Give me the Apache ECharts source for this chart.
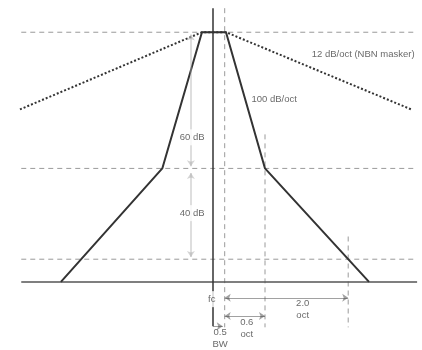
<!DOCTYPE html>
<html>
<head>
    <meta charset="utf-8">
    <title>ECharts</title>
    <script src="https://cdn.jsdelivr.net/npm/echarts@6.0.0/dist/echarts.min.js"></script>
</head>
<body style="margin:0;background:#fff;">
<div id="main" style="width: 422px;height:350px;"></div>
<script type="text/javascript">
    // x: octaves from fc, y: dB relative to the filter peak
    var filterX = [-2.34, -0.78, -0.17, 0.2, 0.8, 2.4];
    var filterY = [-110, -60, 0, 0, -60, -110];
    var maskerX = [-2.97, -0.17, 0.2, 3.05];
    var maskerY = [-34, 0, 0, -34];
    var refLevels = [0, -60, -100];
    var baseLevel = -110;
    var levelSpan = [-2.95, 3.14];
    var fcLine = [[0, 10.6], [0, -129.5]];
    var markerX = [0.18, 0.8, 2.08];
    var markerTop = [10.6, -45, -90];
    var markerBottom = -130;
    // [x1, y1, x2, y2, both ends?]
    var dimArrows = [
        [0.18, -117, 2.08, -117, true],
        [0.18, -125, 0.8, -125, true],
        [0, -129.5, 0.15, -129.5, false]
    ];
    var levelArrows = [
        [-0.34, -1, -0.34, -59],
        [-0.34, -62, -0.34, -99]
    ];
    // [x, y, text, white background?]
    var labels = [
        [2.31, -9.7, '12 dB/oct (NBN masker)', false],
        [0.94, -29.5, '100 dB/oct', false],
        [-0.32, -46.3, '60 dB', true],
        [-0.32, -79.7, '40 dB', true],
        [-0.02, -117.6, 'fc', true],
        [1.38, -122, '2.0\noct', false],
        [0.52, -130.5, '0.6\noct', false],
        [0.11, -135, '0.5\nBW', false]
    ];

    var myChart = echarts.init(document.getElementById('main'));

    function zip(xs, ys) {
        return xs.map(function (x, i) { return [x, ys[i]]; });
    }

    function seg(data, color, width, type, z) {
        return {
            type: 'line',
            data: data,
            showSymbol: false,
            silent: true,
            z: z || 2,
            lineStyle: { color: color, width: width, type: type || 'solid' }
        };
    }

    var series = [];

    // dashed reference levels
    refLevels.forEach(function (lv) {
        series.push(seg([[levelSpan[0], lv], [levelSpan[1], lv]], '#9a9a9a', 1, [5, 4], 1));
    });
    // baseline
    series.push(seg([[levelSpan[0], baseLevel], [levelSpan[1], baseLevel]], '#555', 1.5, 'solid', 3));

    // dashed vertical markers
    markerX.forEach(function (x, i) {
        series.push(seg([[x, markerTop[i]], [x, markerBottom]], '#9a9a9a', 1, [5, 4], 1));
    });

    // fc line
    series.push(seg(fcLine, '#333', 1.5, 'solid', 3));

    // masker (dotted)
    series.push(seg(zip(maskerX, maskerY), '#333', 2, [2, 2], 2));

    // filter shape
    series.push(seg(zip(filterX, filterY), '#333', 2, 'solid', 4));

    // dimension arrows
    series.push({
        type: 'lines',
        coordinateSystem: 'cartesian2d',
        silent: true,
        z: 5,
        symbolSize: 6,
        lineStyle: { color: '#444', width: 1 },
        data: dimArrows.map(function (a) {
            return {
                coords: [[a[0], a[1]], [a[2], a[3]]],
                symbol: a[4] ? ['arrow', 'arrow'] : ['none', 'arrow']
            };
        })
    });
    series.push({
        type: 'lines',
        coordinateSystem: 'cartesian2d',
        silent: true,
        z: 5,
        symbol: ['arrow', 'arrow'],
        symbolSize: 6,
        lineStyle: { color: '#aaa', width: 1.5 },
        data: levelArrows.map(function (a) {
            return { coords: [[a[0], a[1]], [a[2], a[3]]] };
        })
    });

    // text
    series.push({
        type: 'scatter',
        symbolSize: 0,
        silent: true,
        z: 10,
        data: labels.map(function (l) {
            var item = { value: [l[0], l[1]], name: l[2] };
            if (l[3]) {
                item.label = { backgroundColor: '#fff', padding: [2, 1] };
            }
            return item;
        }),
        label: {
            show: true,
            position: 'inside',
            formatter: function (p) { return p.name; },
            color: '#444',
            fontSize: 9.5,
            lineHeight: 12,
            fontFamily: 'Liberation Sans, Arial, sans-serif'
        }
    });

    var option = {
        backgroundColor: '#fff',
        animation: false,
        grid: { left: 18, right: 1, top: 5, bottom: 0 },
        xAxis: { type: 'value', min: -3, max: 3.2, show: false },
        yAxis: { type: 'value', min: -140, max: 12, show: false },
        series: series
    };

    myChart.setOption(option);
</script>
</body>
</html>
